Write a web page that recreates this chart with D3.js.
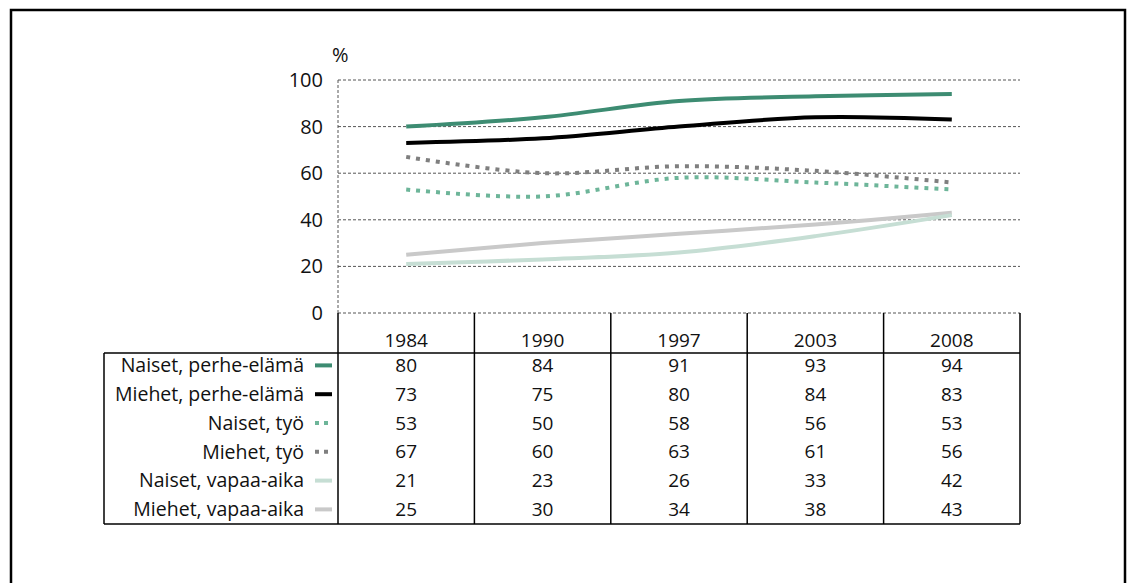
<!DOCTYPE html>
<html><head><meta charset="utf-8">
<script src="https://cdn.jsdelivr.net/npm/d3@7"></script>
<style>
html,body{margin:0;padding:0;background:#fff;}
svg{display:block;font-family:"Open Sans",sans-serif;}
</style></head>
<body>
<svg id="chart" width="1127" height="583"></svg>
<script>
const years = ["1984","1990","1997","2003","2008"];
const seriesNames = ["Naiset, perhe-elämä","Miehet, perhe-elämä","Naiset, työ","Miehet, työ","Naiset, vapaa-aika","Miehet, vapaa-aika"];
const naisetPerhe = [80,84,91,93,94];
const miehetPerhe = [73,75,80,84,83];
const naisetTyo = [53,50,58,56,53];
const miehetTyo = [67,60,63,61,56];
const naisetVapaa = [21,23,26,33,42];
const miehetVapaa = [25,30,34,38,43];
const yTicks = [0,20,40,60,80,100];

const seriesValues = [naisetPerhe, miehetPerhe, naisetTyo, miehetTyo, naisetVapaa, miehetVapaa];
const styles = [
  {color:"#3d8c72", dash:null, w:4},
  {color:"#000000", dash:null, w:4},
  {color:"#6db599", dash:"4,6", w:4},
  {color:"#7f7f7f", dash:"4,6", w:4},
  {color:"#c6ded4", dash:null, w:4},
  {color:"#c9c9c9", dash:null, w:4}
];

const svg = d3.select("#chart");

svg.append("path").attr("d","M11,583 V10 H1125 V583")
  .attr("fill","none").attr("stroke","#000").attr("stroke-width",2.5);

const pL = 338, pR = 1020, pT = 80, pB = 313;
const x = d3.scaleBand().domain(years).range([pL,pR]);
const y = d3.scaleLinear().domain([0,100]).range([pB,pT]);

svg.append("g").selectAll("line").data(yTicks).join("line")
  .attr("x1",pL).attr("x2",pR)
  .attr("y1",d=>y(d)).attr("y2",d=>y(d))
  .attr("stroke","#555").attr("stroke-width",1).attr("stroke-dasharray","3,2");
svg.append("line").attr("x1",pL).attr("x2",pL).attr("y1",pT).attr("y2",pB)
  .attr("stroke","#555").attr("stroke-width",1).attr("stroke-dasharray","3,2");

const yAxis = d3.axisLeft(y).tickValues(yTicks).tickSize(0).tickPadding(15);
const ga = svg.append("g").attr("transform",`translate(${pL},0)`).call(yAxis);
ga.select(".domain").remove();
ga.selectAll("text").attr("font-size",20).attr("font-family","Open Sans").attr("fill","#111");

svg.append("text").attr("x",332).attr("y",62).text("%")
  .attr("font-size",20).attr("fill","#111");

const line = d3.line().x((d,i)=>x(years[i])+x.bandwidth()/2).y(d=>y(d)).curve(d3.curveCatmullRom.alpha(0.5));
const order = [5,4,3,2,1,0];
order.forEach(i=>{
  svg.append("path").datum(seriesValues[i]).attr("d",line)
    .attr("fill","none").attr("stroke",styles[i].color).attr("stroke-width",styles[i].w)
    .attr("stroke-dasharray",styles[i].dash);
});

const tableLeft = 104, headerY = 353, rowH = 28.8, tableBottom = 524;
const tg = svg.append("g");
years.forEach((yr,i)=>{
  tg.append("line").attr("x1",x(yr)).attr("x2",x(yr)).attr("y1",pB).attr("y2",tableBottom)
    .attr("stroke","#000").attr("stroke-width",1.5);
});
tg.append("line").attr("x1",pR).attr("x2",pR).attr("y1",pB).attr("y2",tableBottom)
  .attr("stroke","#000").attr("stroke-width",1.5);
tg.append("line").attr("x1",tableLeft).attr("x2",tableLeft).attr("y1",headerY).attr("y2",tableBottom)
  .attr("stroke","#000").attr("stroke-width",1.5);
tg.append("line").attr("x1",tableLeft).attr("x2",pR).attr("y1",headerY).attr("y2",headerY)
  .attr("stroke","#000").attr("stroke-width",1.5);
tg.append("line").attr("x1",tableLeft).attr("x2",pR).attr("y1",tableBottom).attr("y2",tableBottom)
  .attr("stroke","#000").attr("stroke-width",1.5);

tg.selectAll("text.yr").data(years).join("text").attr("class","yr")
  .attr("x",d=>x(d)+x.bandwidth()/2).attr("y",347).attr("text-anchor","middle")
  .attr("font-size",19).attr("fill","#111").text(d=>d);

seriesNames.forEach((name,r)=>{
  const cy = headerY + rowH*r + rowH/2 - 2;
  tg.append("text").attr("x",304).attr("y",cy).attr("dy","0.35em").attr("text-anchor","end")
    .attr("font-size",19.5).attr("fill","#111").text(name);
  tg.append("line").attr("x1",315).attr("x2",332).attr("y1",cy).attr("y2",cy)
    .attr("stroke",styles[r].color).attr("stroke-width",4)
    .attr("stroke-dasharray",styles[r].dash ? "4,5" : null);
  seriesValues[r].forEach((v,i)=>{
    tg.append("text").attr("x",x(years[i])+x.bandwidth()/2).attr("y",cy).attr("dy","0.35em")
      .attr("text-anchor","middle").attr("font-size",19).attr("fill","#111").text(v);
  });
});
</script>
</body></html>
